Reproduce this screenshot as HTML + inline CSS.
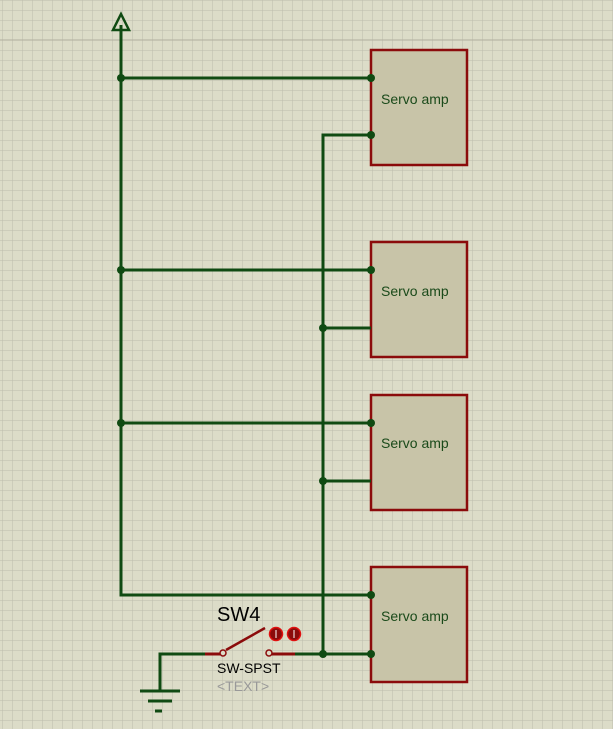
<html><body style="margin:0;width:613px;height:729px;overflow:hidden;background:#dcdcc8">
<svg width="613" height="729" xmlns="http://www.w3.org/2000/svg" style="position:absolute;left:0;top:0">
<defs>
<pattern id="g" width="10" height="10" patternUnits="userSpaceOnUse" x="2" y="0">
<path d="M0 0H10M0 0V10" stroke="#bcbcac" stroke-width="1" fill="none"/>
</pattern>
</defs>
<rect width="613" height="729" fill="url(#g)"/>
<line x1="0" y1="40" x2="613" y2="40" stroke="#b0ae9e"/>
<g fill="#c8c4a8" stroke="#8b0b0b" stroke-width="2.5">
<rect x="371" y="50" width="96" height="115"/>
<rect x="371" y="242" width="96" height="115"/>
<rect x="371" y="395" width="96" height="115"/>
<rect x="371" y="567" width="96" height="115"/>
</g>
<g stroke="#0f4a12" stroke-width="3" fill="none">
<path d="M121 25V595H371"/>
<path d="M113 30L121 14L129 30Z" stroke-width="2.5"/>
<path d="M121 78H371M121 270H371M121 423H371"/>
<path d="M371 135H323V654H371"/>
<path d="M323 328H371M323 481H371"/>
<path d="M295 654H323"/>
<path d="M205 654H160V691"/>
<path d="M140 691H180M148 701H172M155 711H162"/>
</g>
<g fill="#0f4a12">
<circle cx="121" cy="78" r="4"/><circle cx="121" cy="270" r="4"/><circle cx="121" cy="423" r="4"/>
<circle cx="371" cy="78" r="4"/><circle cx="371" cy="135" r="4"/><circle cx="371" cy="270" r="4"/>
<circle cx="371" cy="423" r="4"/><circle cx="371" cy="595" r="4"/><circle cx="371" cy="654" r="4"/>
<circle cx="323" cy="328" r="4"/><circle cx="323" cy="481" r="4"/><circle cx="323" cy="654" r="4"/>
</g>
<g font-family="Liberation Sans, sans-serif" font-size="14" fill="#1a4a1a">
<text x="381" y="104">Servo amp</text>
<text x="381" y="296">Servo amp</text>
<text x="381" y="448">Servo amp</text>
<text x="381" y="621">Servo amp</text>
</g>
<g stroke="#8b0b0b" stroke-width="3" fill="none">
<path d="M205 654H220M272 654H295"/>
<path d="M226 650L265 628" stroke-width="2.5"/>
</g>
<circle cx="223" cy="653" r="3" fill="#dcdcc8" stroke="#8b0b0b" stroke-width="1.5"/>
<circle cx="269" cy="653" r="3" fill="#dcdcc8" stroke="#8b0b0b" stroke-width="1.5"/>
<circle cx="276" cy="634" r="6.5" fill="#8b0b0b" stroke="#e01010" stroke-width="1.5"/>
<circle cx="294" cy="634" r="6.5" fill="#8b0b0b" stroke="#e01010" stroke-width="1.5"/>
<path d="M276 630V638M294 630V638" stroke="#fff" stroke-width="1"/>
<g font-family="Liberation Sans, sans-serif">
<text x="217" y="621" font-size="20" fill="#000">SW4</text>
<text x="217" y="673" font-size="14" fill="#000">SW-SPST</text>
<text x="217" y="691" font-size="14" fill="#999">&lt;TEXT&gt;</text>
</g>
</svg>
</body></html>
